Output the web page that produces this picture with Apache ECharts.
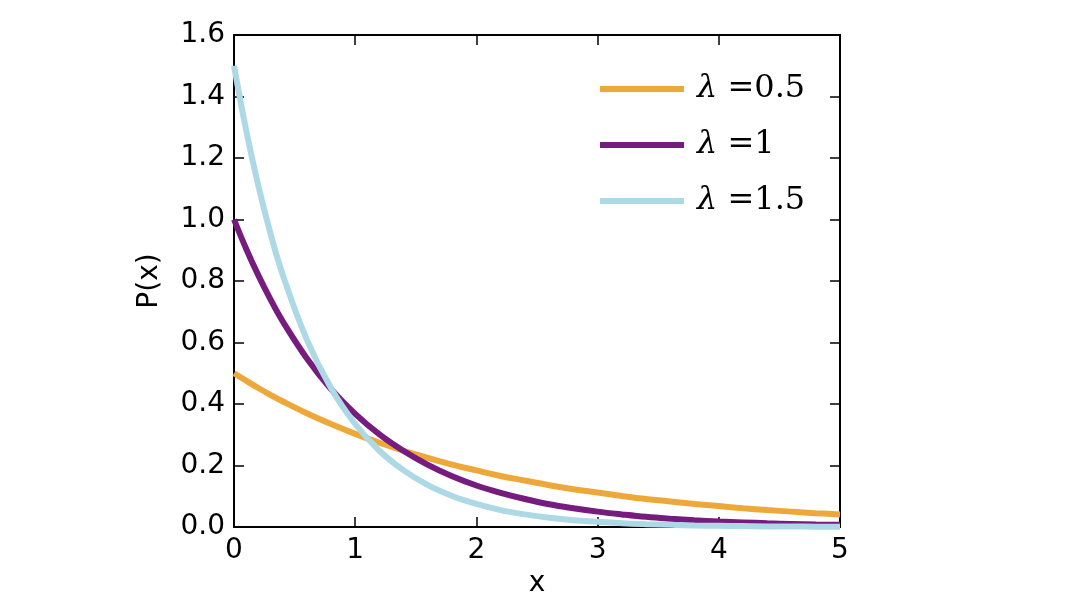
<!DOCTYPE html>
<html>
<head>
<meta charset="utf-8">
<script src="https://cdn.jsdelivr.net/npm/echarts@6/dist/echarts.min.js"></script>
<style>
  html, body { margin: 0; padding: 0; background: #fff; }
  #chart { width: 1080px; height: 607px; }
</style>
</head>
<body>
<div id="chart"></div>
<script>
// x sample points and densities
const xs = [0, 0.1, 0.2, 0.3, 0.4, 0.6, 0.8, 1.0, 1.2, 1.4, 1.6, 1.8, 2.0, 2.2, 2.4,
  2.6, 2.8, 3.0, 3.2, 3.4, 3.6, 3.8, 4.0, 4.2, 4.4, 4.6, 4.8, 5.0];
const lam05 = [0.500, 0.476, 0.452, 0.430, 0.409, 0.370, 0.335, 0.303, 0.274, 0.248, 0.225,
  0.203, 0.184, 0.166, 0.151, 0.136, 0.123, 0.112, 0.101, 0.091, 0.083, 0.075,
  0.068, 0.061, 0.055, 0.050, 0.045, 0.041];
const lam1 = [1.000, 0.905, 0.819, 0.741, 0.670, 0.549, 0.449, 0.368, 0.301, 0.247, 0.202,
  0.165, 0.135, 0.111, 0.091, 0.074, 0.061, 0.050, 0.041, 0.033, 0.027, 0.022,
  0.018, 0.015, 0.012, 0.010, 0.008, 0.007];
const lam15 = [1.500, 1.291, 1.111, 0.956, 0.823, 0.610, 0.452, 0.335, 0.248, 0.184, 0.136,
  0.101, 0.075, 0.055, 0.041, 0.030, 0.022, 0.017, 0.012, 0.009, 0.007, 0.005,
  0.004, 0.003, 0.002, 0.002, 0.001, 0.001];
const seriesNames = ["λ=0.5", "λ=1", "λ=1.5"];
const legendValues = ["0.5", "1", "1.5"];
const colors = ["#eea83a", "#761c7f", "#add8e6"];

const chart = echarts.init(document.getElementById("chart"));

const tickFont = { fontFamily: "DejaVu Sans", fontSize: 28, color: "#000" };
const frameLine = { show: true, onZero: false, lineStyle: { color: "#000", width: 2 } };
const inTick = { show: true, inside: true, length: 10, lineStyle: { color: "#000", width: 1.5 } };

// mirror axis (top / right) with inward ticks only, like matplotlib's frame
function mirrorAxis(position, min, max, interval) {
  return {
    type: "value", position, min, max, interval,
    axisLine: frameLine,
    axisTick: inTick,
    axisLabel: { show: false },
    splitLine: { show: false },
  };
}

const option = {
  animation: false,
  backgroundColor: "#fff",
  grid: { left: 234, top: 35, right: 240, bottom: 80 },
  xAxis: [
    {
      type: "value", min: 0, max: 5, interval: 1,
      name: "x", nameLocation: "middle", nameGap: 42,
      nameTextStyle: { fontFamily: "DejaVu Sans", fontSize: 28, color: "#000" },
      axisLine: frameLine,
      axisTick: inTick,
      axisLabel: Object.assign({ margin: 10 }, tickFont),
      splitLine: { show: false },
    },
    mirrorAxis("top", 0, 5, 1),
  ],
  yAxis: [
    {
      type: "value", min: 0, max: 1.6, interval: 0.2,
      name: "P(x)", nameLocation: "middle", nameGap: 70, nameRotate: 90,
      nameTextStyle: { fontFamily: "DejaVu Sans", fontSize: 28, color: "#000" },
      axisLine: frameLine,
      axisTick: inTick,
      axisLabel: Object.assign({ margin: 9, formatter: (v) => v.toFixed(1) }, tickFont),
      splitLine: { show: false },
    },
    mirrorAxis("right", 0, 1.6, 0.2),
  ],
  legend: {
    orient: "vertical",
    left: 595,
    top: 68,
    itemWidth: 84,
    itemHeight: 6,
    itemGap: 24,
    icon: "rect",
    data: seriesNames,
    formatter: (name) => "{l|λ}{e| =" + legendValues[seriesNames.indexOf(name)] + "}",
    textStyle: {
      rich: {
        l: { fontFamily: "DejaVu Serif", fontStyle: "italic", fontSize: 32, color: "#000",
             lineHeight: 32, padding: [0, 0, 0, 8] },
        e: { fontFamily: "DejaVu Serif", fontSize: 32, color: "#000", lineHeight: 32 },
      },
    },
  },
  series: [lam05, lam1, lam15].map((vals, i) => ({
    name: seriesNames[i],
    type: "line",
    showSymbol: false,
    smooth: 0.4,
    data: xs.map((x, j) => [x, vals[j]]),
    lineStyle: { color: colors[i], width: 6 },
    itemStyle: { color: colors[i] },
  })),
};

chart.setOption(option);
</script>
</body>
</html>
